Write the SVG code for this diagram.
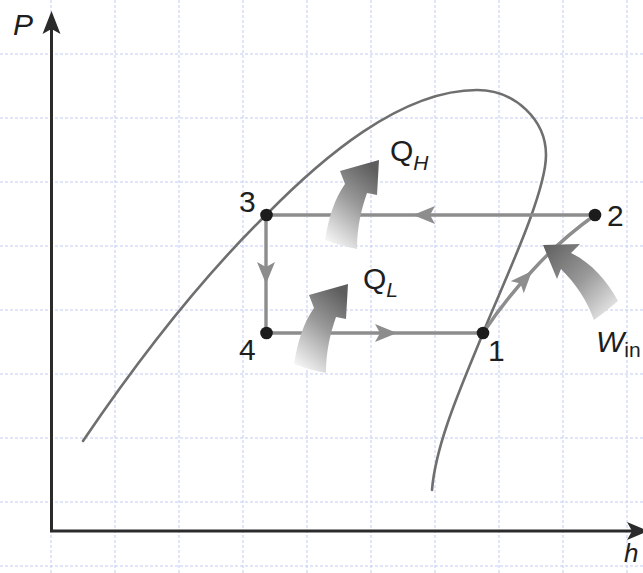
<svg xmlns="http://www.w3.org/2000/svg" width="643" height="573" viewBox="0 0 643 573">
<style>
.grid line{stroke:#c3cbf3;stroke-width:1;stroke-dasharray:3 2}
.sat{fill:none;stroke:#6f6f6f;stroke-width:2.6;stroke-linecap:round}
.cyc{fill:none;stroke:#8d8d8d;stroke-width:3.4;marker-mid:url(#ah)}
.axis{fill:none;stroke:#2b2b2b;stroke-width:3}
.dot{fill:#1c1c1c}
.lbl{font-family:"Liberation Sans",Arial,sans-serif;fill:#1e1e1e}
</style>
<defs>
<marker id="ah" viewBox="0 0 22 18" refX="22" refY="9" markerWidth="22" markerHeight="18" markerUnits="userSpaceOnUse" orient="auto">
<path d="M0,0 L22,9 L0,18 L5,9 Z" fill="#8d8d8d"/>
</marker>
<linearGradient id="gUp" x1="0.2" y1="1" x2="0.7" y2="0">
<stop offset="0" stop-color="#f7f7f7"/>
<stop offset="0.55" stop-color="#9a9a9a"/>
<stop offset="1" stop-color="#5e5e5e"/>
</linearGradient>
<linearGradient id="gWin" x1="1" y1="1" x2="0" y2="0">
<stop offset="0" stop-color="#f7f7f7"/>
<stop offset="0.5" stop-color="#9a9a9a"/>
<stop offset="1" stop-color="#5e5e5e"/>
</linearGradient>
<path id="heatUp" d="M325,240 C329,216 335,198 345,184 L340,171 L379,160 L377,195 L367,193 C361,210 357,228 357,249 C346,247 335,244 325,240 Z"/>
</defs>
<rect width="643" height="573" fill="#ffffff"/>
<g id="grid" class="grid">
<line x1="51" y1="0" x2="51" y2="573"/>
<line x1="115" y1="0" x2="115" y2="573"/>
<line x1="179" y1="0" x2="179" y2="573"/>
<line x1="243" y1="0" x2="243" y2="573"/>
<line x1="307" y1="0" x2="307" y2="573"/>
<line x1="371" y1="0" x2="371" y2="573"/>
<line x1="435" y1="0" x2="435" y2="573"/>
<line x1="499" y1="0" x2="499" y2="573"/>
<line x1="563" y1="0" x2="563" y2="573"/>
<line x1="627" y1="0" x2="627" y2="573"/>
<line x1="0" y1="54" x2="643" y2="54"/>
<line x1="0" y1="118" x2="643" y2="118"/>
<line x1="0" y1="182" x2="643" y2="182"/>
<line x1="0" y1="246" x2="643" y2="246"/>
<line x1="0" y1="310" x2="643" y2="310"/>
<line x1="0" y1="374" x2="643" y2="374"/>
<line x1="0" y1="438" x2="643" y2="438"/>
<line x1="0" y1="502" x2="643" y2="502"/>
<line x1="0" y1="566" x2="643" y2="566"/>
</g>
<g id="axes">
<path class="axis" d="M51.5,28 L51.5,531 L632,531"/>
<polygon points="51.5,11 60.5,34 51.5,29 42.5,34" fill="#2b2b2b"/>
<polygon points="648,531 627,522 632,531 627,540" fill="#2b2b2b"/>
<text class="lbl" x="13" y="35" font-size="30" font-style="italic">P</text>
<text class="lbl" x="624" y="562" font-size="26" font-style="italic">h</text>
</g>
<g id="saturation-dome">
<path class="sat" d="M83,441 C148,345 212,268 266,215 C320,160 400,90 477,90 C515,90 546,120 546,155 C546,195 500,290 483,333 C466,376 436,440 432,490"/>
</g>
<g id="connectors">
<path class="cyc" d="M595,215 L413,215 L266,215"/>
<path class="cyc" d="M266,215 L266,284 L266,333"/>
<path class="cyc" d="M266,333 L397,333 L483,333"/>
<path class="cyc" d="M483,333 Q505,300 532,271 Q560,240 595,215"/>
</g>
<g id="heat-QH">
<use href="#heatUp" fill="url(#gUp)"/>
<text class="lbl" x="390" y="161" font-size="30">Q<tspan font-size="21" font-style="italic" dy="9">H</tspan></text>
</g>
<g id="heat-QL">
<use href="#heatUp" transform="translate(-31,124)" fill="url(#gUp)"/>
<text class="lbl" x="363" y="289" font-size="30">Q<tspan font-size="21" font-style="italic" dy="8">L</tspan></text>
</g>
<g id="work-Win">
<path d="M543,245 L580,244 L571,253 C590,262 607,280 618,301 C610,308 602,314 594,320 C587,300 575,283 561,269 L557,279 Z" fill="url(#gWin)"/>
<text class="lbl" x="596" y="352" font-size="30" font-style="italic">W<tspan font-style="normal" font-size="21" dy="5">in</tspan></text>
</g>
<g id="node-3">
<circle class="dot" cx="266.5" cy="215" r="6.3"/>
<text class="lbl" x="239" y="212" font-size="30">3</text>
</g>
<g id="node-2">
<circle class="dot" cx="595" cy="215" r="6.3"/>
<text class="lbl" x="607" y="226" font-size="30">2</text>
</g>
<g id="node-4">
<circle class="dot" cx="266.5" cy="333" r="6.3"/>
<text class="lbl" x="239" y="360" font-size="30">4</text>
</g>
<g id="node-1">
<circle class="dot" cx="483" cy="333" r="6.3"/>
<text class="lbl" x="488" y="361" font-size="30">1</text>
</g>
</svg>
